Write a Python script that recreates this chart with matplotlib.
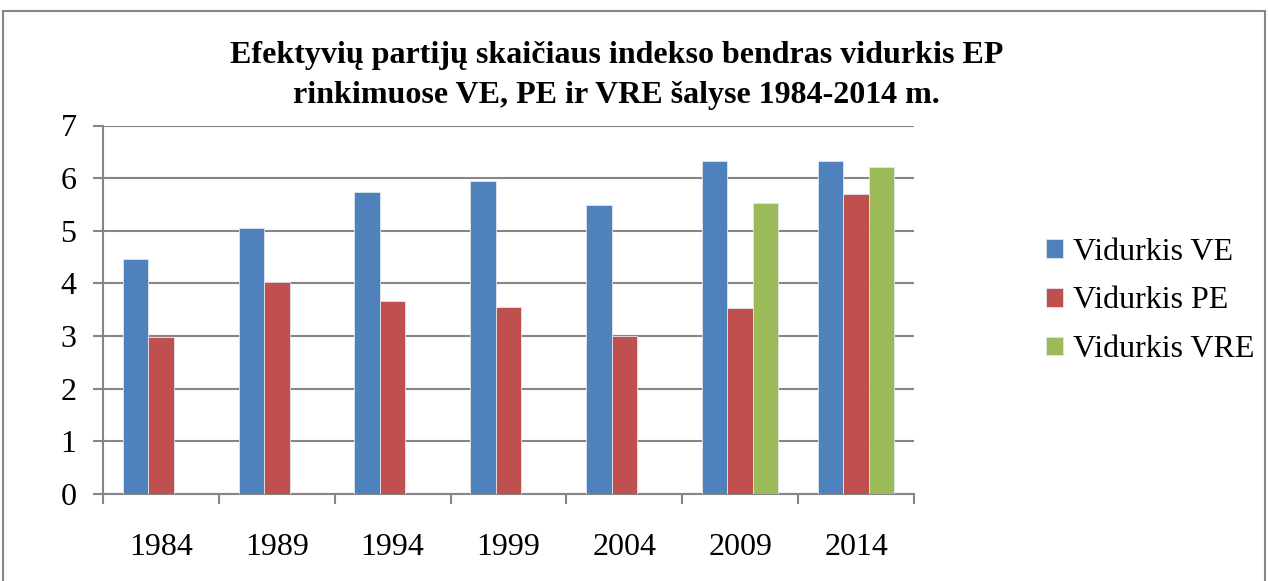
import numpy as np
import matplotlib.pyplot as plt
from matplotlib.patches import Rectangle

plt.rcParams['font.family'] = ['Liberation Serif', 'DejaVu Serif']

years = ['1984', '1989', '1994', '1999', '2004', '2009', '2014']
vidurkis_ve = [4.47, 5.05, 5.73, 5.95, 5.49, 6.32, 6.32]
vidurkis_pe = [2.99, 4.02, 3.66, 3.56, 3.01, 3.53, 5.70]
vidurkis_vre = [np.nan, np.nan, np.nan, np.nan, np.nan, 5.53, 6.21]

series = [('Vidurkis VE', vidurkis_ve, '#4f81bd'),
          ('Vidurkis PE', vidurkis_pe, '#c0504d'),
          ('Vidurkis VRE', vidurkis_vre, '#9bbb59')]

W, H = 1269, 581
fig = plt.figure(figsize=(W / 100, H / 100), dpi=100)
ax = fig.add_axes([103 / W, 1 - 494 / H, (914 - 103) / W, (494 - 125.5) / H])

x = np.arange(len(years))
bw = 0.66 / 3
for i, (name, vals, col) in enumerate(series):
    ax.bar(x + (i - 1) * bw, vals, bw, color=col, edgecolor='#dfe6f0',
           linewidth=0.6, label=name, zorder=3)

ax.set_xlim(-0.5, len(years) - 0.5)
ax.set_ylim(0, 7)
ax.set_yticks(range(8))
ax.yaxis.grid(True, color='#868686', linewidth=1.5, zorder=0)
ax.set_axisbelow(True)
for s in ['top', 'right']:
    ax.spines[s].set_visible(False)
for s in ['left', 'bottom']:
    ax.spines[s].set_color('#868686')
    ax.spines[s].set_linewidth(1.5)

ax.set_xticks(x)
ax.set_xticklabels(years)
ax.set_xticks(np.arange(-0.5, len(years)), minor=True)
ax.tick_params(axis='x', which='major', length=0, pad=28, labelsize=23)
ax.tick_params(axis='x', which='minor', length=7, width=1.5, color='#868686')
ax.tick_params(axis='y', length=7, width=1.5, color='#868686', labelsize=23, pad=12)

fig.text(0.486, 1 - 55 / H, 'Efektyvių partijų skaičiaus indekso bendras vidurkis EP',
         ha='center', va='center', fontsize=23, fontweight='bold')
fig.text(0.486, 1 - 95 / H, 'rinkimuose VE, PE ir VRE šalyse 1984-2014 m.',
         ha='center', va='center', fontsize=23, fontweight='bold')

fig.legend(loc='center left', bbox_to_anchor=(1040 / W, 1 - 301 / H), frameon=False,
           fontsize=23, handlelength=0.53, handleheight=0.53, handletextpad=0.3,
           labelspacing=0.62, borderaxespad=0, borderpad=0.2)

fig.patches.append(Rectangle((3 / W, -0.05), (1265 - 3) / W, 1.05 - 11 / H,
                             transform=fig.transFigure, fill=False,
                             edgecolor='#868686', linewidth=1.5))

fig.savefig('out.png', dpi=100)
